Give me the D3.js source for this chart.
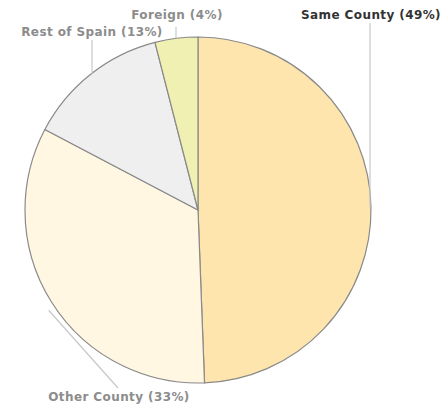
<!DOCTYPE html>
<html><head><meta charset="utf-8">
<script src="https://cdn.jsdelivr.net/npm/d3@7"></script>
<style>html,body{margin:0;padding:0;background:#fff;}svg{display:block;}</style>
</head><body>
<svg id="c" width="446" height="409"></svg>
<script>
const categories = ["Same County", "Other County", "Rest of Spain", "Foreign"];
const values = [49.4, 33.3, 13.3, 4.0];
const colors = ["#fde5ad", "#fff7e2", "#efeff0", "#eff0b2"];

const svg = d3.select("#c");
const cx = 198, cy = 210, r = 173;
const g = svg.append("g").attr("transform", `translate(${cx},${cy})`);
const data = categories.map((c, i) => ({name: c, value: values[i], color: colors[i]}));
const total = d3.sum(values);
const pie = d3.pie().value(d => d.value).sort(null);
const arcs = pie(data);
const arc = d3.arc().innerRadius(0).outerRadius(r);

g.selectAll("path.s").data(arcs).join("path")
  .attr("class", "s")
  .attr("d", arc)
  .attr("fill", d => d.data.color)
  .attr("stroke", "#8a8a8a")
  .attr("stroke-width", 1.2)
  .attr("stroke-linejoin", "round");

// label layout (positions only)
const labelLayout = [
  {tx: 371, ty: 19, anchor: "middle", end: [370, 23], color: "#333"},
  {tx: 119, ty: 401, anchor: "middle", end: [118, 388], color: "#8c8c8c"},
  {tx: 92, ty: 36, anchor: "middle", end: [92, 40], color: "#8c8c8c"},
  {tx: 177, ty: 19, anchor: "middle", end: [176, 27], color: "#8c8c8c"}
];

const edge = d3.arc().innerRadius(r).outerRadius(r);
arcs.forEach((a, i) => {
  const L = labelLayout[i];
  const p = edge.centroid(a);
  let sx = p[0] + cx, sy = p[1] + cy;
  let ex = L.end[0], ey = L.end[1];
  if (i !== 1) { sx = ex; } else { sx -= 3; sy += 8; }
  svg.append("line")
    .attr("x1", sx).attr("y1", sy).attr("x2", ex).attr("y2", ey)
    .attr("stroke", "#c8c8c8").attr("stroke-width", 1.2);
  const pct = Math.round(a.data.value / total * 100);
  svg.append("text")
    .attr("x", L.tx).attr("y", L.ty)
    .attr("text-anchor", L.anchor)
    .attr("font-family", "DejaVu Sans, Verdana, sans-serif")
    .attr("font-weight", "bold")
    .attr("font-size", 12)
    .attr("letter-spacing", 0.4)
    .attr("fill", L.color)
    .text(`${a.data.name} (${pct}%)`);
});
</script>
</body></html>
